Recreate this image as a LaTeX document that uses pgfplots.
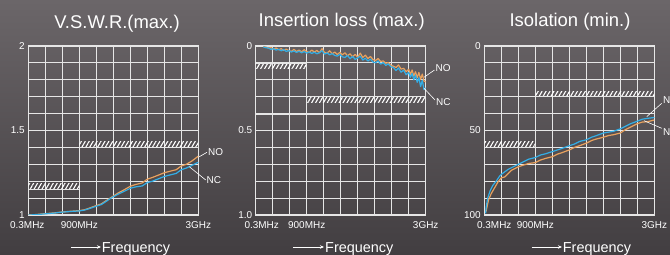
\documentclass[border=0pt]{standalone}
\usepackage{fontspec}
\setmainfont{Liberation Sans}
\usepackage{pgfplots}
\pgfplotsset{compat=1.18}
\usetikzlibrary{patterns.meta,arrows.meta}
\definecolor{bgtop}{HTML}{6B6669}
\definecolor{bgbot}{HTML}{423E41}
\definecolor{cno}{HTML}{E8A15E}
\definecolor{cnc}{HTML}{33AEE6}
\definecolor{gridc}{HTML}{E6E6E6}
\pgfplotsset{panel/.style={
  scale only axis, width=170bp, height=169bp, anchor=south west,
  xmin=0, xmax=10, xtick={0,1,...,10},
  grid=major, major grid style={gridc, line width=1bp},
  axis line style={gridc, line width=1.2bp},
  major tick length=0pt,
  ticklabel style={white, font=\fontsize{10}{12}\selectfont},
  xticklabel style={yshift=-3bp},
}}
\tikzset{hatch/.style={pattern={Lines[angle=60,distance=3.4bp,line width=1.1bp]}, pattern color=white},
  curve/.style={line width=1.2bp, line join=round},
  lead/.style={white, line width=0.6bp}}
\begin{document}
\begin{tikzpicture}
\shade[top color=bgtop, bottom color=bgbot] (0,0) rectangle (670bp,255bp);
\useasboundingbox (0,0) rectangle (670bp,255bp);
% ---------- Panel 1: VSWR
\begin{axis}[panel, at={(28.3bp,40bp)},
  ymin=1, ymax=2, ytick={1,1.1,...,2.01},
  yticklabels={1,,,,,1.5,,,,,2},
  xticklabels={\hspace*{-2bp}0.3MHz,,,900MHz,,,,,,,3GHz}]
\fill[hatch] (3,1.405) rectangle (10,1.437);
\fill[hatch] (0,1.155) rectangle (3,1.187);
\draw[gridc, line width=1.3bp] (3,1.4) -- (10,1.4);
\draw[gridc, line width=1.3bp] (0,1.15) -- (3,1.15);
\addplot[curve, cno] coordinates {(0,1.000) (0.5,1.003) (1,1.008) (1.5,1.012) (2,1.018) (2.5,1.022) (3,1.026) (3.3,1.031) (3.6,1.041) (4,1.056) (4.3,1.066) (4.6,1.086) (4.8,1.099) (5,1.112) (5.3,1.131) (5.6,1.147) (6,1.170) (6.3,1.180) (6.7,1.190) (7,1.212) (7.3,1.222) (7.6,1.234) (8,1.250) (8.3,1.258) (8.7,1.268) (9,1.290) (9.3,1.300) (9.6,1.318) (10,1.348)};
\addplot[curve, cnc] coordinates {(0,1.000) (0.5,1.002) (1,1.007) (1.5,1.011) (2,1.017) (2.5,1.021) (3,1.024) (3.3,1.029) (3.6,1.038) (4,1.052) (4.3,1.062) (4.6,1.082) (4.8,1.096) (5,1.108) (5.3,1.124) (5.6,1.138) (6,1.158) (6.3,1.166) (6.7,1.172) (7,1.192) (7.3,1.200) (7.6,1.212) (8,1.228) (8.3,1.236) (8.7,1.246) (9,1.268) (9.3,1.278) (9.6,1.292) (10,1.312)};
\end{axis}
% ---------- Panel 2: Insertion loss
\begin{axis}[panel, at={(255.7bp,40bp)}, y dir=reverse,
  ymin=0, ymax=1, ytick={0,0.1,...,1.01},
  yticklabels={0,,,,,0.5,,,,,1.0},
  xticklabels={\hspace*{12bp}0.3MHz,,,900MHz,,,,,,,3GHz}]
\draw[gridc, line width=1.9bp] (0,0.4) -- (10,0.4);
\fill[hatch] (0,0.106) rectangle (3,0.136);
\fill[hatch] (3,0.306) rectangle (10,0.336);
\draw[gridc, line width=1.3bp] (0,0.1) -- (3,0.1);
\draw[gridc, line width=1.3bp] (3,0.3) -- (10,0.3);
\addplot[curve, cno] coordinates {(0.45,0.003) (0.6,0.006) (0.75,0.012) (0.9,0.010) (1.05,0.018) (1.2,0.012) (1.35,0.022) (1.5,0.016) (1.65,0.026) (1.8,0.018) (1.95,0.028) (2.1,0.032) (2.25,0.020) (2.4,0.033) (2.55,0.024) (2.7,0.035) (2.85,0.022) (3.0,0.033) (3.15,0.038) (3.3,0.024) (3.45,0.036) (3.6,0.026) (3.75,0.040) (3.9,0.016) (4.05,0.038) (4.2,0.042) (4.35,0.028) (4.5,0.046) (4.65,0.036) (4.8,0.050) (4.95,0.038) (5.1,0.052) (5.25,0.040) (5.4,0.058) (5.55,0.046) (5.7,0.064) (5.85,0.050) (6.0,0.066) (6.15,0.042) (6.3,0.068) (6.45,0.054) (6.6,0.074) (6.75,0.062) (6.9,0.080) (7.05,0.086) (7.2,0.074) (7.35,0.092) (7.5,0.088) (7.65,0.102) (7.8,0.098) (7.95,0.114) (8.1,0.120) (8.25,0.127) (8.4,0.112) (8.55,0.137) (8.7,0.132) (8.85,0.152) (9.0,0.138) (9.1,0.168) (9.2,0.142) (9.3,0.178) (9.4,0.152) (9.5,0.188) (9.6,0.156) (9.7,0.198) (9.8,0.166) (9.9,0.208) (10,0.212)};
\addplot[curve, cnc] coordinates {(0.45,0.005) (0.6,0.010) (0.75,0.012) (0.9,0.020) (1.05,0.016) (1.2,0.024) (1.35,0.020) (1.5,0.028) (1.65,0.022) (1.8,0.032) (1.95,0.027) (2.1,0.036) (2.25,0.029) (2.4,0.038) (2.55,0.031) (2.7,0.040) (2.85,0.033) (3.0,0.042) (3.15,0.035) (3.3,0.044) (3.45,0.037) (3.6,0.046) (3.75,0.039) (3.9,0.028) (4.05,0.048) (4.2,0.041) (4.35,0.052) (4.5,0.045) (4.65,0.056) (4.8,0.060) (4.95,0.049) (5.1,0.064) (5.25,0.068) (5.4,0.056) (5.55,0.075) (5.7,0.062) (5.85,0.079) (6.0,0.070) (6.15,0.060) (6.3,0.083) (6.45,0.072) (6.6,0.089) (6.75,0.077) (6.9,0.095) (7.05,0.099) (7.2,0.088) (7.35,0.107) (7.5,0.098) (7.65,0.115) (7.8,0.106) (7.95,0.123) (8.1,0.127) (8.25,0.145) (8.4,0.130) (8.55,0.155) (8.7,0.143) (8.85,0.170) (9.0,0.156) (9.1,0.185) (9.2,0.163) (9.3,0.200) (9.4,0.172) (9.5,0.215) (9.6,0.188) (9.7,0.240) (9.8,0.202) (9.9,0.258) (10,0.248)};
\end{axis}
% ---------- Panel 3: Isolation
\begin{axis}[panel, at={(484.3bp,40bp)}, y dir=reverse,
  ymin=0, ymax=100, ytick={0,10,...,100},
  yticklabels={0,,,,,50,,,,,100},
  xticklabels={\hspace*{20bp}0.3MHz,,,900MHz,,,,,,,3GHz}]
\fill[hatch] (3,26.8) rectangle (10,29.6);
\fill[hatch] (0,56.8) rectangle (3,59.6);
\draw[gridc, line width=1.3bp] (3,30) -- (10,30);
\draw[gridc, line width=1.3bp] (0,60) -- (3,60);
\addplot[curve, cno] coordinates {(0.1,98) (0.25,91) (0.4,87.5) (0.6,84) (0.8,80.5) (1.0,78) (1.2,77.5) (1.4,75.5) (1.6,73.5) (1.8,72.5) (2.0,71.5) (2.3,70.5) (2.6,69.5) (3.0,69) (3.3,67.5) (3.6,66.5) (4.0,65.5) (4.3,64) (4.6,63) (5.0,61.5) (5.3,60) (5.6,59) (6.0,57.5) (6.3,56) (6.6,55) (7.0,54) (7.3,53) (7.6,52.5) (8.0,51.5) (8.3,49.5) (8.6,48) (9.0,46) (9.3,45) (9.6,44.8) (10,43.8)};
\addplot[curve, cnc] coordinates {(0.08,99) (0.1,96) (0.2,90) (0.35,85.5) (0.5,82.5) (0.7,80) (0.9,77) (1.0,76) (1.2,74.5) (1.4,73) (1.6,72) (1.8,71) (2.0,70) (2.3,68.5) (2.6,67) (3.0,66) (3.3,64.5) (3.6,63.8) (4.0,62.5) (4.3,61.5) (4.6,60.5) (5.0,59) (5.3,58) (5.6,56.5) (6.0,55.5) (6.3,54) (6.6,53) (7.0,51.5) (7.3,51) (7.6,50.5) (8.0,49) (8.3,47.5) (8.6,46) (9.0,44.5) (9.3,43.3) (9.6,42.8) (10,42.3)};
\end{axis}
% ---------- titles
\begin{scope}[every node/.style={white, font=\fontsize{18.5}{20}\selectfont, anchor=base}]
\node at (117bp,226.7bp) {V.S.W.R.(max.)};
\node at (341.7bp,228.5bp) {Insertion loss (max.)};
\node at (570bp,228bp) {Isolation (min.)};
\end{scope}
% ---------- Frequency labels
\begin{scope}[every node/.style={white, font=\fontsize{14.5}{16}\selectfont, anchor=base west, inner sep=0pt}]
\draw[white, line width=0.7bp, -{Stealth[length=4bp,width=3.5bp]}] (71bp,8bp) -- (101bp,8bp);
\node at (101.7bp,3bp) {Frequency};
\draw[white, line width=0.7bp, -{Stealth[length=4bp,width=3.5bp]}] (293bp,8bp) -- (324bp,8bp);
\node at (325bp,3bp) {Frequency};
\draw[white, line width=0.7bp, -{Stealth[length=4bp,width=3.5bp]}] (531.7bp,8bp) -- (562bp,8bp);
\node at (562.7bp,3bp) {Frequency};
\end{scope}
% ---------- NO / NC labels
\begin{scope}[every node/.style={white, font=\fontsize{10}{12}\selectfont, anchor=west, inner sep=0.5bp}]
\draw[lead] (207bp,102.7bp) -- (199.3bp,98.3bp);
\node at (207.5bp,103bp) {NO};
\draw[lead] (205.7bp,75bp) -- (189.3bp,88.3bp);
\node at (206bp,75bp) {NC};
\draw[lead] (434.5bp,185bp) -- (424bp,177.7bp);
\node at (435bp,186.7bp) {NO};
\draw[lead] (435bp,155bp) -- (424bp,166.7bp);
\node at (435.5bp,153.3bp) {NC};
\draw[lead] (661.7bp,151.7bp) -- (646.7bp,138.3bp);
\node at (662.5bp,155bp) {NO};
\draw[lead] (661.7bp,126.7bp) -- (644bp,134.3bp);
\node at (662.5bp,123bp) {NC};
\end{scope}
\end{tikzpicture}
\end{document}
